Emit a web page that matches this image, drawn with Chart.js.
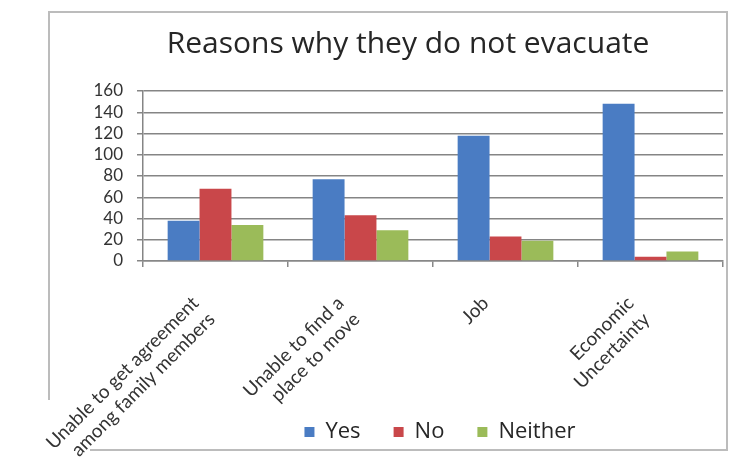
<!DOCTYPE html>
<html>
<head>
<meta charset="utf-8">
<script src="https://cdn.jsdelivr.net/npm/chart.js@4.4.0/dist/chart.umd.min.js"></script>
<style>
  html, body { margin: 0; padding: 0; background: #fff; }
</style>
</head>
<body>
<canvas id="chart" width="732" height="468"></canvas>
<script>
// chart data
const categories = [
  ['Unable to get agreement', 'among family members'],
  ['Unable to find a', 'place to move'],
  'Job',
  ['Economic', 'Uncertainty']
];
const seriesNames = ['Yes', 'No', 'Neither'];
const yesValues = [38, 77, 118, 148];
const noValues = [68, 43, 23, 4];
const neitherValues = [34, 29, 19, 9];
const yMax = 160;
const yStep = 20;

const colors = ['#4a7cc3', '#c9474a', '#9bbb59'];

// grey frame round the chart box; the first label runs over its lower-left corner
const framePlugin = {
  id: 'frame',
  beforeDraw(chart) {
    const ctx = chart.ctx;
    ctx.save();
    ctx.fillStyle = '#fff';
    ctx.fillRect(0, 0, chart.width, chart.height);
    ctx.strokeStyle = '#bcbcbc';
    ctx.lineWidth = 2;
    ctx.beginPath();
    ctx.moveTo(49, 400);
    ctx.lineTo(49, 12);
    ctx.lineTo(727, 12);
    ctx.lineTo(727, 450);
    ctx.lineTo(90, 450);
    ctx.stroke();
    ctx.restore();
  }
};

// the slanted labels hang down past the legend, and the legend
// sits a little right of the plot centre in the original
const layoutTweaks = {
  id: 'layoutTweaks',
  afterLayout(chart) {
    chart.scales.x.bottom = chart.height;
    chart.legend.left += 7;
    chart.legend.right += 7;
  }
};

const ctx = document.getElementById('chart').getContext('2d');
new Chart(ctx, {
  type: 'bar',
  data: {
    labels: categories,
    datasets: [
      { label: seriesNames[0], data: yesValues, backgroundColor: colors[0] },
      { label: seriesNames[1], data: noValues, backgroundColor: colors[1] },
      { label: seriesNames[2], data: neitherValues, backgroundColor: colors[2] }
    ]
  },
  options: {
    responsive: false,
    animation: false,
    layout: { padding: { left: 93, right: 9, top: 12, bottom: 15 } },
    datasets: {
      bar: { categoryPercentage: 0.66, barPercentage: 1.0, borderWidth: 0 }
    },
    scales: {
      x: {
        afterFit(scale) { scale.height = 127; },
        grid: { display: true, drawOnChartArea: false, drawTicks: true, tickLength: 6, color: '#888', lineWidth: 1.5 },
        border: { display: true, color: '#888', width: 1.5 },
        ticks: {
          font: { family: 'Lato', size: 19 },
          color: '#333',
          maxRotation: 45,
          minRotation: 45,
          padding: 25,
          labelOffset: -20
        }
      },
      y: {
        min: 0,
        max: yMax,
        afterFit(scale) { scale.width = 50; },
        grid: { color: '#858585', lineWidth: 1.5, tickLength: 6 },
        border: { display: true, color: '#858585', width: 1.5 },
        ticks: {
          stepSize: yStep,
          autoSkip: false,
          font: { family: 'Lato', size: 17 },
          color: '#333',
          padding: 14
        }
      }
    },
    plugins: {
      title: {
        display: true,
        text: 'Reasons why they do not evacuate',
        font: { family: 'Open Sans', size: 30, weight: 'normal' },
        color: '#262626',
        padding: { top: 14, bottom: 29 }
      },
      legend: {
        position: 'bottom',
        fullSize: false,
        labels: {
          boxWidth: 10,
          boxHeight: 10,
          padding: 33,
          font: { family: 'Open Sans', size: 22 },
          color: '#262626'
        }
      },
      tooltip: { enabled: false }
    }
  },
  plugins: [framePlugin, layoutTweaks]
});
</script>
</body>
</html>
